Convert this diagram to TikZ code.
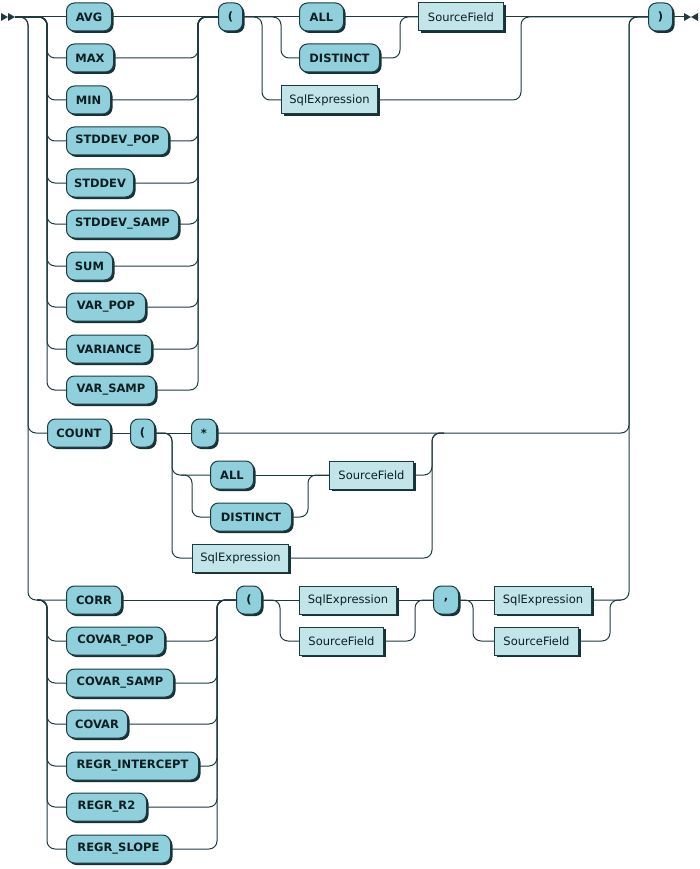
\documentclass[tikz,border=0pt]{standalone}
\usepackage{fontspec}
\setmainfont{DejaVu Sans}
\usepackage{xcolor}
\usepackage{tikz}
\usetikzlibrary{shadows}
\definecolor{rrTerm}{HTML}{90D0DC}
\definecolor{rrNonterm}{HTML}{C2E5EA}
\definecolor{rrEdge}{HTML}{1B3B40}
\definecolor{rrShadow}{HTML}{163236}
\definecolor{rrLine}{HTML}{1E3A3F}
\definecolor{rrText}{HTML}{0D1E21}

\begin{document}
\begin{tikzpicture}[
    x=1pt, y=-1pt,
    kw/.style={draw=rrEdge, fill=rrTerm, rounded corners=8pt, line width=1pt,
               minimum height=28pt, minimum width=#1, inner xsep=2pt,
               anchor=west, text=rrText,
               font=\fontsize{11.5}{13}\selectfont\bfseries,
               drop shadow={shadow xshift=2pt, shadow yshift=-2pt,
                            fill=rrShadow, opacity=1}},
    nt/.style={draw=rrEdge, fill=rrNonterm, line width=1pt,
               minimum height=28pt, minimum width=#1, inner xsep=2pt,
               anchor=west, text=rrText, font=\fontsize{11.5}{13}\selectfont,
               drop shadow={shadow xshift=2pt, shadow yshift=-2pt,
                            fill=rrShadow, opacity=1}},
    rr/.style={draw=rrLine, line width=1pt, rounded corners=8pt},
  ]
  \useasboundingbox (0,0) rectangle (700,869);

  % Aggregates with one argument
  \node[kw=45pt]  (avg)        at (66,17)  {AVG};
  \node[kw=47pt]  (max)        at (66,58)  {MAX};
  \node[kw=44pt]  (min)        at (66,100) {MIN};
  \node[kw=102pt] (stddevpop)  at (66,141) {STDDEV\_POP};
  \node[kw=67pt]  (stddev)     at (66,183) {STDDEV};
  \node[kw=112pt] (stddevsamp) at (66,224) {STDDEV\_SAMP};
  \node[kw=46pt]  (sum)        at (66,266) {SUM};
  \node[kw=79pt]  (varpop)     at (66,307) {VAR\_POP};
  \node[kw=85pt]  (variance)   at (66,349) {VARIANCE};
  \node[kw=89pt]  (varsamp)    at (66,390) {VAR\_SAMP};

  \node[kw=24pt]  (lpa)   at (218,17)  {(};
  \node[kw=44pt]  (alla)  at (299,17)  {ALL};
  \node[kw=80pt]  (dista) at (299,58)  {DISTINCT};
  \node[nt=85pt]  (sfa)   at (418,17)  {SourceField};
  \node[nt=96pt]  (sqa)   at (281,100) {SqlExpression};
  \node[kw=24pt]  (rp)    at (648,17)  {)};

  % COUNT
  \node[kw=63pt]  (count) at (47,433)  {COUNT};
  \node[kw=24pt]  (lpb)   at (130,433) {(};
  \node[kw=25pt]  (star)  at (191,433) {*};
  \node[kw=43pt]  (allb)  at (210,475) {ALL};
  \node[kw=81pt]  (distb) at (210,517) {DISTINCT};
  \node[nt=84pt]  (sfb)   at (329,475) {SourceField};
  \node[nt=96pt]  (sqb)   at (192,558) {SqlExpression};

  % Aggregates with two arguments
  \node[kw=55pt]  (corr)          at (66,600) {CORR};
  \node[kw=98pt]  (covarpop)      at (66,641) {COVAR\_POP};
  \node[kw=107pt] (covarsamp)     at (66,683) {COVAR\_SAMP};
  \node[kw=61pt]  (covar)         at (66,724) {COVAR};
  \node[kw=132pt] (regrintercept) at (66,766) {REGR\_INTERCEPT};
  \node[kw=80pt]  (regrrtwo)      at (66,807) {REGR\_R2};
  \node[kw=104pt] (regrslope)     at (66,849) {REGR\_SLOPE};

  \node[kw=25pt]  (lpc)   at (236,600) {(};
  \node[nt=97pt]  (sqc)   at (299,600) {SqlExpression};
  \node[nt=84pt]  (sfc)   at (299,641) {SourceField};
  \node[kw=25pt]  (comma) at (433,600) {,};
  \node[nt=97pt]  (sqd)   at (494,600) {SqlExpression};
  \node[nt=84pt]  (sfd)   at (494,641) {SourceField};

  % junction points
  \coordinate (start) at (15,17);
  \coordinate (stop)  at (684,17);
  \coordinate (oL) at (28,17);
  \coordinate (aL) at (47,17);
  \coordinate (aR) at (198,17);
  \coordinate (cL) at (262,17);
  \coordinate (bL) at (281,17);
  \coordinate (bR) at (400,17);
  \coordinate (cR) at (521,17);
  \coordinate (zR) at (629,17);
  \coordinate (fL) at (172,433);
  \coordinate (gS) at (181,475);
  \coordinate (gL) at (192,475);
  \coordinate (gR) at (308,475);
  \coordinate (hR) at (432,433);
  \coordinate (hS) at (444,433);
  \coordinate (kS) at (37,600);
  \coordinate (kL) at (47,600);
  \coordinate (kR) at (217,600);
  \coordinate (mL) at (280,600);
  \coordinate (mR) at (415,600);
  \coordinate (nL) at (473,600);
  \coordinate (eR) at (610,600);
  \coordinate (eS) at (621,600);

  % start and end marks
  \fill[rrLine] (1,13) -- (8,17) -- (1,21) -- cycle
                (8,13) -- (15,17) -- (8,21) -- cycle;
  \fill[rrLine] (684,13) -- (691,17) -- (684,21) -- cycle
                (698,13) -- (691,17) -- (698,21) -- cycle;

  % main track
  \draw[rr] (start) -- (avg.west);
  \draw[rr] (avg.east) -- (lpa.west);
  \draw[rr] (lpa.east) -- (alla.west);
  \draw[rr] (alla.east) -- (sfa.west);
  \draw[rr] (sfa.east) -- (rp.west);
  \draw[rr] (rp.east) -- (stop);
  \foreach \n in {max,min,stddevpop,stddev,stddevsamp,sum,varpop,variance,varsamp} {
    \draw[rr] (start) -| (\n.west -| aL) -- (\n.west);
    \draw[rr] (\n.east) -| (aR) -- (lpa.west);
  }
  \draw[rr] (lpa.east) -| (dista.west -| bL) -- (dista.west);
  \draw[rr] (dista.east) -| (bR) -- (sfa.west);
  \draw[rr] (lpa.east) -| (sqa.west -| cL) -- (sqa.west);
  \draw[rr] (sqa.east) -| (cR) -- (rp.west);

  % COUNT track
  \draw[rr] (start) -| (count.west -| oL) -- (count.west);
  \draw[rr] (count.east) -- (lpb.west);
  \draw[rr] (lpb.east) -- (star.west);
  \draw[rr] (lpb.east) -| (allb.west -| fL) -- (allb.west);
  \draw[rr] (lpb.east) -| (sqb.west -| fL) -- (sqb.west);
  \draw[rr] (gS) -| (distb.west -| gL) -- (distb.west);
  \draw[rr] (allb.east) -- (sfb.west);
  \draw[rr] (distb.east) -| (gR) -- (sfb.west);
  \draw[rr] (sfb.east) -| (hR) -- (hS);
  \draw[rr] (sqb.east) -| (hR) -- (hS);
  \draw[rr] (star.east) -| (zR) -- (rp.west);

  % two argument track
  \draw[rr] (start) -| (corr.west -| oL) -- (corr.west);
  \draw[rr] (corr.east) -- (lpc.west);
  \foreach \n in {covarpop,covarsamp,covar,regrintercept,regrrtwo,regrslope} {
    \draw[rr] (kS) -| (\n.west -| kL) -- (\n.west);
    \draw[rr] (\n.east) -| (kR) -- (lpc.west);
  }
  \draw[rr] (lpc.east) -- (sqc.west);
  \draw[rr] (lpc.east) -| (sfc.west -| mL) -- (sfc.west);
  \draw[rr] (sqc.east) -- (comma.west);
  \draw[rr] (sfc.east) -| (mR) -- (comma.west);
  \draw[rr] (comma.east) -- (sqd.west);
  \draw[rr] (comma.east) -| (sfd.west -| nL) -- (sfd.west);
  \draw[rr] (sfd.east) -| (eR) -- (eS);
  \draw[rr] (sqd.east) -| (zR) -- (rp.west);
\end{tikzpicture}
\end{document}
